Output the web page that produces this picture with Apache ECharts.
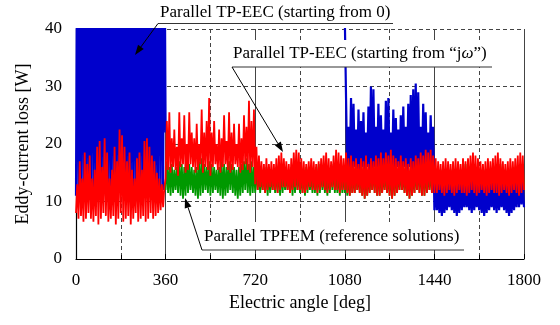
<!DOCTYPE html>
<html>
<head>
<meta charset="UTF-8">
<title>Eddy-current loss vs electric angle</title>
<script src="https://cdn.jsdelivr.net/npm/echarts@6/dist/echarts.min.js"></script>
<style>
    html, body { margin: 0; padding: 0; background: #fff; }
    #chart { width: 560px; height: 325px; }
</style>
</head>
<body>
<div id="chart"></div>
<script>
    // troughs sampled every 10 deg (0, 10, 20 ...), peaks halfway between (5, 15, 25 ...)
    var xTicks = [0, 360, 720, 1080, 1440, 1800];
    var yTicks = [0, 10, 20, 30, 40];

    // Parallel TP-EEC (starting from "jw") - red, 0..1800
    var redLo = [
        8, 7, 7.5, 6.5, 7, 8, 7, 6.5, 7.5, 6, 7, 8, 7.5, 6.5, 7, 7.5, 6, 7, 8, 6.5,
        7, 7.5, 6, 7, 8, 6.5, 7, 7.5, 6.5, 7, 8, 7, 7.5, 8, 8.5, 9, 14,
        15.5, 15, 16, 15.5, 14.5, 16, 16.5, 15, 15.5, 16.5, 16, 15, 15.5, 16.5, 15, 16, 15.5, 14.5,
        16, 16.5, 15.5, 15, 16, 16.5, 15.5, 15, 15.5, 16.5, 16, 15, 15.5, 16.5, 15.5, 15, 16, 13,
        12, 12.5, 12, 11.5, 12, 12.5, 12, 12, 11.5, 12, 12.5, 12.5, 12, 11.5, 12, 12.5, 12, 12,
        11.5, 11.5, 12, 12.5, 12, 12, 11.5, 12, 12.5, 12, 11.5, 12, 12.5, 12, 12, 11.5, 12, 12,
        11.5, 11, 11.5, 11.5, 12, 11.5, 11, 10.5, 11, 11.5, 12, 11.5, 11, 11, 11.5, 12, 11.5, 11,
        10.5, 11, 11.5, 12, 12, 11.5, 11, 10.5, 11, 11.5, 12, 11.5, 11, 11, 11.5, 12, 11.5, 11.5,
        11.5, 12, 11.5, 11, 11.5, 12, 11.5, 11, 11.5, 12, 11.5, 11.5, 11, 11.5, 12, 11.5, 11, 11.5,
        12, 11.5, 11, 11.5, 12, 11.5, 11.5, 11, 11.5, 12, 11.5, 11, 11.5, 12, 11.5, 11, 11.5, 12
    ];
    var redHi = [
        13, 17, 14, 18.5, 16.5, 18, 14, 15.5, 19.5, 20.5, 16, 21, 18.5, 14, 15.5, 19.5, 17, 22.5,
        21.5, 19.5, 17, 18.5, 15.5, 14, 17.5, 18.5, 15.5, 20.5, 21, 19.5, 18, 17, 15, 14, 13, 12.5,
        24, 25.5, 21, 22.5, 19.5, 25.5, 21, 25, 20, 25.5, 22, 21, 23.5, 20, 26, 22, 24, 28,
        22, 24, 20, 22.5, 21, 25, 20.5, 25.5, 22, 23.5, 20, 23.5, 21, 25, 23, 27.5, 24, 26,
        19.5, 18, 17, 16.5, 17.5, 16.5, 17, 16.5, 17.5, 18, 18.5, 17.5, 17, 16.5, 17.5, 18.5, 19, 18.5,
        17.5, 17, 16.5, 17, 17.5, 17, 16.5, 17, 17.5, 18, 18.5, 17.5, 17, 18, 19, 18.5, 18, 17.5,
        18.5, 17.5, 18, 17, 17.5, 16.5, 17.5, 17, 18, 16.5, 17.5, 17, 18, 17.5, 18.5, 17.5, 18.5, 18,
        19, 18, 17.5, 17, 18, 17, 17.5, 16.5, 17.5, 17, 18, 17.5, 18.5, 18, 19, 18.5, 19, 18,
        17.5, 17, 16.5, 17, 17.5, 17, 16.5, 17, 17.5, 17, 16.5, 17.5, 17, 17.5, 18, 18.5, 18, 17.5,
        17, 16.5, 17, 17.5, 17, 17.5, 18, 18.5, 17.5, 17, 16.5, 17, 17.5, 17, 17.5, 18, 18.5, 18
    ];

    // Parallel TPFEM (reference solutions) - green, 360..1800
    var greenLo = [
        12, 11.5, 11, 11.5, 12, 11.5, 11, 10.5, 11, 11.5, 12, 11.5, 11, 10.5, 11, 11.5, 12, 11.5,
        11, 11.5, 12, 11.5, 11, 10.5, 11, 11.5, 12, 11.5, 11, 10.5, 11, 11.5, 12, 11.5, 11, 11.5, 11.5,
        12, 11.5, 12, 11.5, 11, 11.5, 12, 11.5, 11.5, 11, 11.5, 12, 12, 11.5, 11, 11.5, 12, 11.5,
        11.5, 11, 11.5, 12, 11.5, 11.5, 11, 11.5, 12, 11.5, 11, 11.5, 12, 11.5, 11.5, 11, 11.5, 11.5,
        11, 11, 11.5, 11.5, 12, 11.5, 11, 10.5, 11, 11.5, 12, 11.5, 11, 11, 11.5, 12, 11.5, 11,
        10.5, 11, 11.5, 12, 12, 11.5, 11, 10.5, 11, 11.5, 12, 11.5, 11, 11, 11.5, 12, 11.5, 11.5,
        11.5, 12, 11.5, 11, 11.5, 12, 11.5, 11, 11.5, 12, 11.5, 11.5, 11, 11.5, 12, 11.5, 11, 11.5,
        12, 11.5, 11, 11.5, 12, 11.5, 11.5, 11, 11.5, 12, 11.5, 11, 11.5, 12, 11.5, 11, 11.5, 12
    ];
    var greenHi = [
        17, 16, 16.5, 15.5, 16, 17, 16.5, 16, 17, 16.5, 16, 15.5, 16, 17, 17.5, 16.5, 16, 17,
        16.5, 16, 15.5, 16, 17, 16.5, 16, 17, 16.5, 16, 15.5, 16, 16.5, 17, 17.5, 16.5, 17, 16,
        16, 15.5, 15, 15.5, 16, 15.5, 15, 15.5, 16, 16.5, 16, 15.5, 15, 15.5, 16, 16.5, 16, 15.5,
        15, 15.5, 16, 15.5, 15, 15.5, 16, 16.5, 16, 15.5, 15, 15.5, 16, 16.5, 16, 15.5, 16, 15.5,
        15.5, 15, 15.5, 15, 15.5, 15, 15.5, 16, 15.5, 15, 15.5, 16, 16.5, 16, 15.5, 15, 15.5, 15,
        15.5, 16, 15.5, 15, 15.5, 15, 15.5, 16, 15.5, 15, 15.5, 16, 16.5, 16, 15.5, 15, 15.5, 15,
        15.5, 15, 15.5, 16, 15.5, 15, 15.5, 16, 15.5, 15, 15.5, 16, 16.5, 16, 15.5, 15, 15.5, 16,
        15.5, 15, 15.5, 16, 15.5, 15, 15.5, 16, 16.5, 16, 15.5, 15, 15.5, 16, 15.5, 15, 15.5, 16
    ];

    // Parallel TP-EEC (starting from 0) - blue, 0..360 then 1080..1800
    var blueLoA = [
        11, 12, 11.5, 12, 11, 12.5, 11.5, 12, 11, 12, 11.5, 12.5, 11, 12, 11.5, 12, 11, 12.5,
        11.5, 12, 11, 12, 11.5, 12.5, 11, 12, 11.5, 12, 11, 12.5, 11.5, 12, 11, 12, 11.5, 12, 22
    ];
    var blueHiA = [
        62, 55, 70, 58, 66, 52, 75, 60, 68, 57, 64, 71, 54, 63, 69, 58, 72, 61,
        56, 67, 73, 59, 65, 62, 70, 55, 68, 60, 74, 57, 63, 66, 58, 71, 61, 64
    ];
    var blueLoB = [
        42,
        15, 16, 15.5, 16, 15, 15.5, 16, 15, 16, 15.5, 15, 16, 15.5, 15, 16, 15.5, 15, 16,
        15.5, 15, 16, 15, 15.5, 16, 15, 16, 15.5, 15, 16, 15.5, 15, 16, 15.5, 15, 16,
        8.5,
        8.5, 8, 7.5, 8, 8.5, 9, 8.5, 8, 7.5, 8, 8.5, 9, 9, 8.5, 8, 8.5, 9, 8.5,
        8, 7.5, 8, 8.5, 9, 8.5, 8, 8.5, 9, 8.5, 8, 7.5, 8, 8.5, 9, 9, 9.5, 9
    ];
    var blueHiB = [
        28, 23, 28, 27, 22.5, 26, 24, 25.5, 22, 26.5, 30, 29.5, 23, 27, 25, 22.5, 27.5, 28,
        22, 26, 24.5, 22.5, 25, 26.5, 23, 27, 28.5, 29.5, 30.5, 29, 23, 27, 25.5, 22, 25, 23,
        14, 13.5, 14, 13, 13.5, 14, 13.5, 13, 14, 13.5, 14, 13, 13.5, 14, 14.5, 14, 13.5, 13,
        13.5, 14, 13.5, 13, 14, 13.5, 14, 14.5, 14, 13.5, 13, 13.5, 14, 13.5, 14, 14.5, 14, 13.5
    ];

    // build [angle, value] pairs: trough, peak, trough, ...
    function zigzag(start, lo, hi) {
        var out = [];
        for (var i = 0; i < lo.length; i++) {
            out.push([start + i * 10, lo[i]]);
            if (i < hi.length) out.push([start + i * 10 + 5, hi[i]]);
        }
        return out;
    }

    var blueData = zigzag(0, blueLoA, blueHiA).concat([[720, '-']], zigzag(1080, blueLoB, blueHiB));
    var greenData = zigzag(360, greenLo, greenHi);
    var redData = zigzag(0, redLo, redHi);

    var serif = "'Liberation Serif', 'Times New Roman', serif";

    // leader line with a filled arrow head at (x2, y2)
    function arrow(x1, y1, x2, y2) {
        var a = Math.atan2(y2 - y1, x2 - x1), len = 10, w = 3.5;
        var bx = x2 - len * Math.cos(a), by = y2 - len * Math.sin(a);
        return [
            { type: 'line', z: 100, shape: { x1: x1, y1: y1, x2: bx, y2: by }, style: { stroke: '#000', lineWidth: 1 } },
            { type: 'polygon', z: 100, shape: { points: [[x2, y2],
                [bx + w * Math.sin(a), by - w * Math.cos(a)],
                [bx - w * Math.sin(a), by + w * Math.cos(a)]] }, style: { fill: '#000' } }
        ];
    }
    function underline(x1, x2, y) {
        return { type: 'line', z: 100, shape: { x1: x1, y1: y, x2: x2, y2: y }, style: { stroke: '#333', lineWidth: 1.2 } };
    }
    function label(x, y, txt, rich) {
        return { type: 'text', z: 101, x: x, y: y, style: { text: txt, fill: '#000', fontSize: 17, fontFamily: serif,
            verticalAlign: 'middle', align: 'left', rich: rich || {} } };
    }

    var chart = echarts.init(document.getElementById('chart'), null, { renderer: 'canvas' });
    chart.setOption({
        animation: false,
        backgroundColor: '#fff',
        grid: { left: 76, right: 36, top: 29, bottom: 66 },
        xAxis: {
            type: 'value', min: xTicks[0], max: xTicks[xTicks.length - 1], interval: 360,
            name: 'Electric angle [deg]', nameLocation: 'middle', nameGap: 34,
            nameTextStyle: { color: '#000', fontSize: 18, fontFamily: serif },
            axisLine: { show: true, onZero: false, lineStyle: { color: '#000', width: 1.2 } },
            axisTick: { show: true, inside: true, length: 5, lineStyle: { color: '#000' } },
            minorTick: { show: true, splitNumber: 2, length: 4, lineStyle: { color: '#000' } },
            axisLabel: { color: '#000', fontSize: 17, fontFamily: serif, margin: 13,
                formatter: function (v) { return String(v); } },
            splitLine: { show: true, lineStyle: { color: '#444', width: 1, type: 'solid' } },
            minorSplitLine: { show: true, lineStyle: { color: '#444', width: 1, type: [4, 3] } }
        },
        yAxis: {
            type: 'value', min: yTicks[0], max: yTicks[yTicks.length - 1], interval: 10,
            name: 'Eddy-current loss [W]', nameLocation: 'middle', nameGap: 44,
            nameTextStyle: { color: '#000', fontSize: 18, fontFamily: serif },
            axisLine: { show: true, lineStyle: { color: '#000', width: 1.2 } },
            axisTick: { show: false },
            axisLabel: { color: '#000', fontSize: 17, fontFamily: serif, margin: 14 },
            splitLine: { show: true, lineStyle: { color: '#444', width: 1, type: [4, 3] } }
        },
        series: [
            { name: 'Parallel TPFEM (reference solutions)', type: 'line', data: greenData, showSymbol: false,
              lineStyle: { color: '#009900', width: 1.8 }, itemStyle: { color: '#009900' } },
            { name: 'Parallel TP-EEC (starting from 0)', type: 'line', data: blueData, showSymbol: false,
              lineStyle: { color: '#0000cc', width: 2.2 }, itemStyle: { color: '#0000cc' } },
            { name: 'Parallel TP-EEC (starting from jw)', type: 'line', data: redData, showSymbol: false,
              lineStyle: { color: '#ff0000', width: 1.8 }, itemStyle: { color: '#ff0000' } }
        ],
        graphic: [
            label(160, 13, 'Parallel TP-EEC (starting from 0)'),
            underline(158, 393, 23.5)
        ].concat(arrow(158, 23.5, 135, 55), [
            { type: 'rect', z: 99, shape: { x: 231, y: 40, width: 262, height: 27 }, style: { fill: '#fff' } },
            label(233, 54, 'Parallel TP-EEC (starting from \u201Cj{w|\u03C9}\u201D)',
                { w: { fontStyle: 'italic', fontSize: 17, fontFamily: serif, fill: '#000' } }),
            underline(232, 492, 67)
        ], arrow(232, 67, 283, 152), [
            { type: 'rect', z: 99, shape: { x: 201, y: 222, width: 264, height: 28 }, style: { fill: '#fff' } },
            label(204, 237, 'Parallel TPFEM (reference solutions)'),
            underline(202, 464, 250)
        ], arrow(202, 250, 185, 198))
    });
</script>
</body>
</html>
